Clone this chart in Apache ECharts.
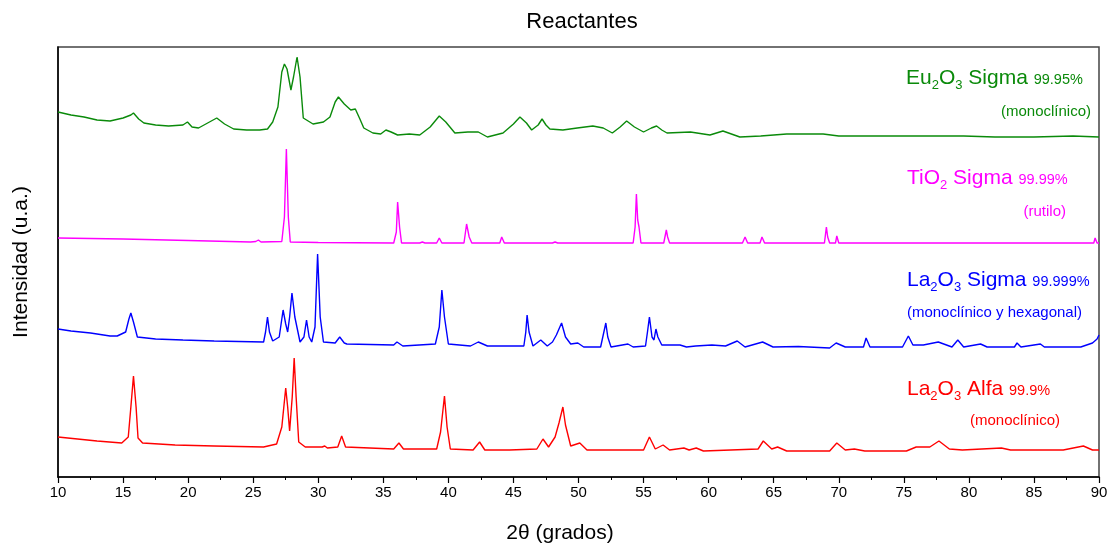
<!DOCTYPE html>
<html>
<head>
<meta charset="utf-8">
<script src="https://cdn.jsdelivr.net/npm/echarts@6/dist/echarts.min.js"></script>
<style>html,body{margin:0;padding:0;background:#fff;}#c{width:1111px;height:544px;}</style>
</head>
<body>
<div id="c"></div>
<script>
// 2θ (degrees), intensity (arbitrary units, traces offset vertically as in the figure)
const eu2o3 = [[10,365],[11,362],[12,360],[13,357],[14,356],[15,359],[15.6,362],[15.8,364],[16.2,358],[16.6,354],[17.5,352],[18.5,351],[19.6,352],[19.95,355],[20.3,350],[20.8,349],[21.5,354],[22.2,359],[22.8,353],[23.5,348],[24.5,347],[25.5,347],[26.1,348],[26.5,355],[26.9,370],[27.2,405],[27.4,413],[27.6,408],[27.9,387],[28.1,400],[28.37,420],[28.6,400],[28.85,359],[29.6,353],[30.4,355],[30.9,360],[31.3,375],[31.55,380],[32.0,373],[32.5,367],[32.85,368],[33.2,358],[33.5,349],[34.2,344],[34.8,343],[35.2,347],[35.6,345],[36.1,342],[37.0,343],[37.8,342],[38.6,350],[39.3,361],[39.8,355],[40.5,344],[41.5,345],[42.3,345],[43.0,340],[44.2,344],[45.0,353],[45.5,360],[46.0,354],[46.4,347],[46.9,352],[47.2,358],[47.5,352],[47.8,348],[48.8,347],[49.9,349],[51.1,351],[51.9,349],[52.6,344],[53.2,350],[53.7,356],[54.3,350],[55.0,345],[55.6,349],[56.0,351],[56.4,347],[56.8,344],[58.6,345],[60.1,342],[61.1,346],[62.4,340],[64,341],[66,343],[68.8,343],[70,341],[72,341],[75,341],[77,341],[79.6,341],[82,340],[85,340],[88,341],[90,340]];
const tio2 = [[10,239],[15,238],[20,236.5],[24.8,235],[25.2,235.5],[25.4,237],[25.6,235],[27.2,235.5],[27.4,260],[27.55,328],[27.7,260],[27.85,235],[30,234.5],[35.8,234],[36.0,245],[36.1,275],[36.25,250],[36.4,234],[37.8,234],[38.0,235],[38.2,234],[39.1,234],[39.3,239],[39.5,234],[41.2,234],[41.4,253],[41.6,240],[41.8,234],[43.95,234],[44.1,240],[44.3,234],[48.0,234],[48.2,235],[48.4,234],[54.2,234],[54.35,250],[54.45,283],[54.55,257],[54.65,250],[54.8,234],[56.55,234],[56.75,247],[56.85,240],[57.0,234],[62.6,234],[62.8,240],[63.0,234],[63.95,234],[64.1,240],[64.3,234],[68.9,234],[69.05,250],[69.15,240],[69.3,234],[69.75,234],[69.85,241],[70.0,234],[76.5,234],[76.6,235],[76.7,234],[82.3,234],[82.45,236],[82.6,234],[84.3,234],[84.4,235],[84.5,234],[89.6,234],[89.7,239],[89.85,234],[90,234]];
const la2o3Sigma = [[10,148],[11,146],[12.5,144],[14,141],[14.55,141],[15.2,145],[15.45,158],[15.6,164],[15.8,155],[16.1,140],[17.5,138],[19.6,137],[22,136],[25.8,135],[25.95,145],[26.1,160],[26.25,145],[26.5,136],[27.0,140],[27.3,167],[27.5,153],[27.65,145],[27.8,160],[27.98,184],[28.2,160],[28.6,135],[28.9,140],[29.1,157],[29.3,140],[29.5,135],[29.75,150],[29.95,223],[30.15,160],[30.4,135],[31.3,134],[31.65,140],[32.0,134],[32.2,133],[35.8,132],[36.05,135],[36.5,131],[39.0,133],[39.3,150],[39.5,187],[39.7,160],[40.0,133],[41.7,131],[42.3,135],[43.0,131],[45.8,131],[45.95,145],[46.05,162],[46.2,145],[46.5,131],[47.1,137],[47.6,131],[48.0,135],[48.3,142],[48.7,154],[49.0,140],[49.4,133],[49.95,134],[50.4,130],[51.7,130],[51.95,145],[52.1,154],[52.25,140],[52.5,130],[53.8,133],[54.2,130],[55.15,131],[55.3,145],[55.45,160],[55.65,140],[55.8,137],[55.95,148],[56.1,140],[56.4,132],[57.8,132],[58.3,130],[59.0,131],[60.25,132],[61.3,131],[62.2,136],[62.8,130],[64.15,135],[64.95,130],[66.9,130.5],[69.3,129],[69.8,134],[70.5,130],[71.9,130],[72.1,139],[72.4,130],[74.9,130],[75.35,141],[75.7,132],[76.5,132],[77.65,135],[78.7,130],[79.15,137],[79.6,130],[80.9,133],[81.4,130],[83.5,130],[83.7,134],[84.0,130],[85.5,133],[85.8,130],[88.6,130],[89.5,134],[89.85,138],[90,142]];
const la2o3Alfa = [[10,40],[11.5,38],[13,36],[14.9,34],[15.4,40],[15.6,70],[15.8,101],[16.0,70],[16.15,39],[16.5,34],[19,32],[22,31],[25.8,30],[26.8,33],[27.2,50],[27.5,89],[27.65,70],[27.8,46],[28.0,80],[28.15,119],[28.3,80],[28.5,35],[29.0,30],[30.3,30],[30.5,31],[30.7,29],[31.5,30],[31.8,41],[32.1,30],[35.8,28],[36.2,34],[36.55,28],[39.1,28],[39.4,45],[39.7,81],[39.9,50],[40.15,28],[41.9,27],[42.4,35],[42.8,27],[44.4,27],[44.55,28],[44.7,27],[46.8,28],[47.27,38],[47.7,30],[48.2,40],[48.5,54],[48.8,70],[49.0,52],[49.4,31],[50.1,34],[50.65,27],[55.0,27],[55.45,40],[55.9,28],[56.5,32],[57.0,27],[58.1,29],[58.5,27],[59.05,29],[59.6,26],[63.8,28],[64.2,36],[64.85,28],[65.3,30],[66,26],[69.3,26],[69.85,34],[70.5,27],[71.2,28],[72,26],[75.2,26],[75.95,30],[77.0,30],[77.7,36],[78.5,28],[79.5,27],[82.5,29],[83.2,27],[87.25,27],[88.8,31],[89.5,27],[90,27]];

const xMin = 10, xMax = 90, xStep = 5;
const FONT = "'Liberation Sans', Arial, sans-serif";
const GREEN = '#0a8a0a', MAGENTA = '#ff00ff', BLUE = '#0000ff', RED = '#ff0000';
const MAIN = 21, SUB = 13, PCT = 14.5, NOTE = 15;

const measureCtx = document.createElement('canvas').getContext('2d');
function textWidth(t, size) { measureCtx.font = size + 'px ' + FONT; return measureCtx.measureText(t).width; }
// parts: [text, size, baseline shift]; placed left to right on a shared baseline
function formula(x, baseline, parts, c) {
  const els = [];
  let cx = x;
  parts.forEach(function (p) {
    els.push({type: 'text', x: cx, y: baseline + p[2] + 0.21 * p[1], z: 100,
      style: {text: p[0], fill: c, font: p[1] + 'px ' + FONT, align: 'left', verticalAlign: 'bottom'}});
    cx += textWidth(p[0], p[1]);
  });
  return els;
}
function chem(x, baseline, pieces, pct, c) {
  const parts = [];
  pieces.forEach(function (p) { parts.push(typeof p === 'number' ? [String(p), SUB, 5] : [p, MAIN, 0]); });
  parts.push([pct, PCT, 0]);
  return formula(x, baseline, parts, c);
}
function subLabel(x, y, text, c) {
  return {type: 'text', x: x, y: y, z: 100, style: {text: text, fill: c, font: NOTE + 'px ' + FONT, align: 'right', verticalAlign: 'middle'}};
}
function plainText(x, y, text, size, rot) {
  return {type: 'text', x: x, y: y, rotation: rot || 0, z: 100, style: {text: text, fill: '#000', font: size + 'px ' + FONT, align: 'center', verticalAlign: 'middle'}};
}

const chart = echarts.init(document.getElementById('c'), null, {renderer: 'canvas'});
function line(name, data, color) {
  return {name: name, type: 'line', data: data, showSymbol: false, symbol: 'none', animation: false,
          lineStyle: {color: color, width: 1.4}, itemStyle: {color: color}};
}
const graphics = [
  plainText(582, 22, 'Reactantes', 22),
  plainText(560, 533, '2θ (grados)', 21),
  plainText(21, 262, 'Intensidad (u.a.)', 21, Math.PI / 2),
  subLabel(1091, 112, '(monoclínico)', GREEN),
  subLabel(1066, 212, '(rutilo)', MAGENTA),
  subLabel(1082, 313, '(monoclínico y hexagonal)', BLUE),
  subLabel(1060, 421, '(monoclínico)', RED)
].concat(
  chem(906, 84.5, ['Eu', 2, 'O', 3, ' Sigma '], '99.95%', GREEN),
  chem(907, 184.5, ['TiO', 2, ' Sigma '], '99.99%', MAGENTA),
  chem(907, 286, ['La', 2, 'O', 3, ' Sigma '], '99.999%', BLUE),
  chem(907, 395, ['La', 2, 'O', 3, ' Alfa '], '99.9%', RED)
);
chart.setOption({
  animation: false,
  backgroundColor: '#fff',
  grid: {left: 58, right: 12, top: 47, bottom: 67, show: true, borderColor: '#444', borderWidth: 1.5, backgroundColor: 'transparent'},
  xAxis: {
    type: 'value', min: xMin, max: xMax, interval: xStep,
    axisLine: {show: true, lineStyle: {color: '#000', width: 1.5}},
    axisTick: {show: true, inside: false, length: 6, lineStyle: {color: '#000', width: 1.2}},
    minorTick: {show: true, splitNumber: 2, length: 3, lineStyle: {color: '#000', width: 1}},
    axisLabel: {fontFamily: FONT, fontSize: 15, color: '#000', margin: 8},
    splitLine: {show: false}
  },
  yAxis: {
    type: 'value', min: 0, max: 430,
    axisLine: {show: true, lineStyle: {color: '#000', width: 1.5}},
    axisTick: {show: false}, axisLabel: {show: false}, splitLine: {show: false}
  },
  series: [
    line('Eu2O3 Sigma', eu2o3, GREEN),
    line('TiO2 Sigma', tio2, MAGENTA),
    line('La2O3 Sigma', la2o3Sigma, BLUE),
    line('La2O3 Alfa', la2o3Alfa, RED)
  ],
  graphic: graphics
});
</script>
</body>
</html>
